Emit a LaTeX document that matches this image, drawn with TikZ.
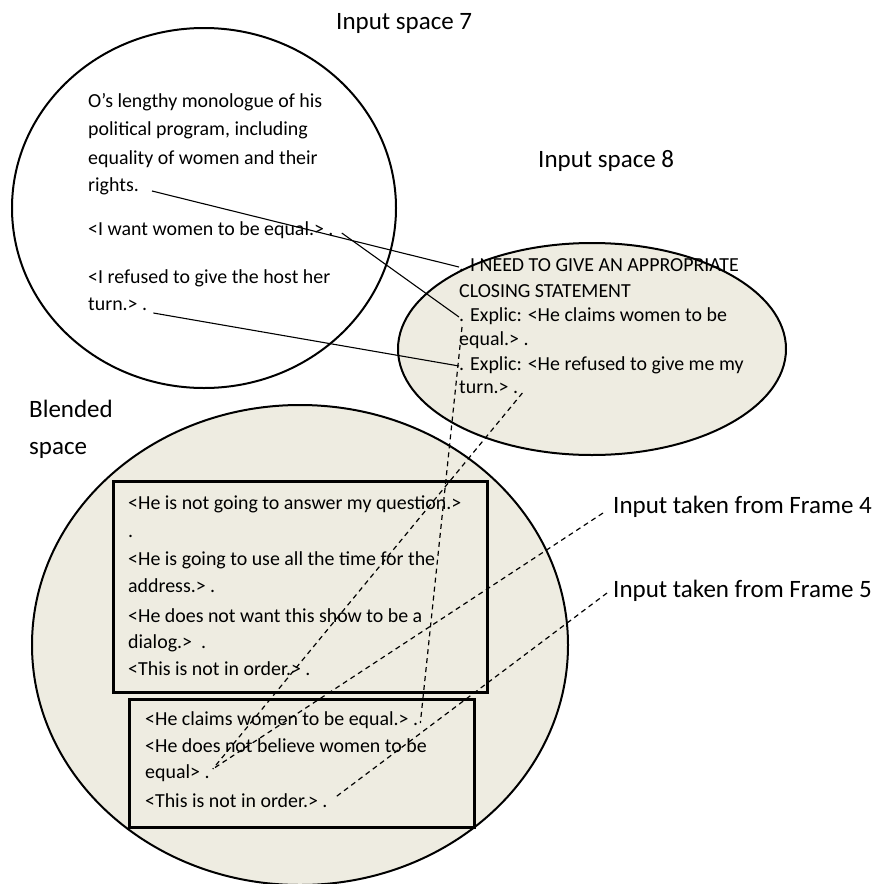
\documentclass[tikz,border=0pt]{standalone}
\usepackage{fontspec}
\setmainfont{Carlito}

\definecolor{spacefill}{HTML}{EEECE1}
\tikzset{
  spacename/.style={font=\fontsize{25}{37}\selectfont, inner sep=0pt, anchor=base west},
  bodytext/.style={font=\fontsize{19.9}{24}\selectfont, inner sep=0pt, anchor=base west},
  spaceshape/.style={line width=2pt, fill=spacefill},
  framebox/.style={line width=3pt, fill=spacefill},
  link/.style={line width=1.1pt},
  dashlink/.style={line width=1.2pt, dash pattern=on 5pt off 4pt}
}

\begin{document}
\begin{tikzpicture}[x=1pt,y=-1pt]
  \useasboundingbox (0,0) rectangle (880,884);
  % the spaces
  \draw[spaceshape] (300,645) ellipse [x radius=268, y radius=240];
  \draw[framebox] (113,481) rectangle (487,692);
  \draw[framebox] (129,699) rectangle (474,827);
  \draw[line width=2pt, fill=white] (204,208) ellipse [x radius=192, y radius=180];
  \draw[spaceshape] (592,349) ellipse [x radius=194, y radius=106];

  \node[spacename] (in7) at (336,29) {Input space 7};
  \node[spacename] (in8) at (538,167) {Input space 8};
  \node[spacename, anchor=north west, align=left] (blend) at (29,400) {Blended\\space};
  \node[spacename] (f4) at (613,513) {Input taken from Frame 4};
  \node[spacename] (f5) at (613,597) {Input taken from Frame 5};

  % input space 7
  \foreach \i/\y/\txt in {1/107/{O’s lengthy monologue of his},2/135/{political program, including},
      3/164/{equality of women and their},4/191/{rights.},5/235/{<I want women to be equal.> .},
      6/283/{<I refused to give the host her},7/310/{turn.> .}}
    \node[bodytext] (s\i) at (88,\y) {\txt};
  % input space 8
  \foreach \i/\y/\txt in {1/271/{. I NEED TO GIVE AN APPROPRIATE},2/297/{CLOSING STATEMENT},
      3/321/{. Explic: <He claims women to be},4/345/{equal.> .},
      5/370/{. Explic: <He refused to give me my},6/393/{turn.> .}}
    \node[bodytext] (e\i) at (459,\y) {\txt};
  % blended space
  \foreach \i/\y/\txt in {1/509/{<He is not going to answer my question.>},2/537/{.},
      3/565/{<He is going to use all the time for the},4/592/{address.> .},
      5/622/{<He does not want this show to be a},6/648/{dialog.>\ \ .},7/675/{<This is not in order.> .}}
    \node[bodytext] (a\i) at (128,\y) {\txt};
  \foreach \i/\y/\txt in {1/725/{<He claims women to be equal.> .},2/752/{<He does not believe women to be},
      3/778/{equal> .},4/807/{<This is not in order.> .}}
    \node[bodytext] (b\i) at (145,\y) {\txt};

  % mappings
  \draw[link] ([xshift=13]s4.base east) -- ([yshift=4]e1.base west);
  \draw[link] ([xshift=8,yshift=2]s5.base east) -- ([yshift=4]e3.base west);
  \draw[link] ([xshift=6,yshift=-3]s7.base east) -- ([yshift=4]e5.base west);
  \draw[dashlink] ([xshift=3,yshift=18]e4.base west) -- ([xshift=2,yshift=2]b1.base east);
  \draw[dashlink] ([xshift=4]e6.base east) -- ([xshift=3,yshift=9]b3.base east);
  \draw[dashlink] ([xshift=-10]f4.base west) -- ([xshift=3,yshift=9]b3.base east);
  \draw[dashlink] ([xshift=-6,yshift=4]f5.base west) -- ([xshift=8,yshift=10]b4.base east);
\end{tikzpicture}
\end{document}
